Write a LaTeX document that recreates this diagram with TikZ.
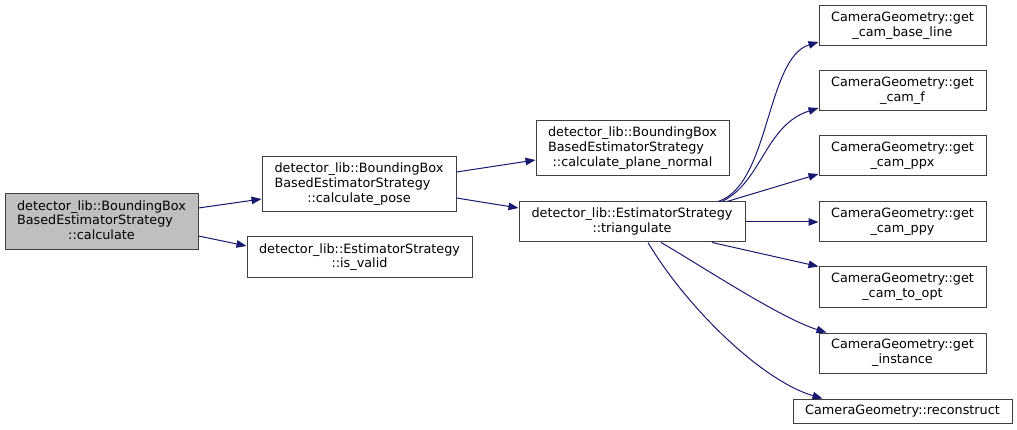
\documentclass[tikz,border=0pt]{standalone}
\usepackage{fontspec}
\setmainfont{DejaVu Sans}
\usetikzlibrary{arrows.meta}
\definecolor{edgec}{HTML}{191970}
\definecolor{bord}{HTML}{404040}
\definecolor{gfill}{HTML}{BFBFBF}
\newcommand{\threel}[3]{\begin{tabular}{@{}l@{}}#1\\#2\\\multicolumn{1}{@{}c@{}}{#3}\end{tabular}}
\newcommand{\twol}[2]{\begin{tabular}{@{}c@{}}#1\\#2\end{tabular}}
\begin{document}
\begin{tikzpicture}[x=1pt,y=-1pt,
 box/.style={draw=bord, line width=1pt, fill=white, rectangle, inner sep=0pt, font=\fontsize{12.8}{14.8}\selectfont},
 call/.style={draw=edgec, line width=1pt, -{Triangle[length=10pt,width=7.5pt]}}]
\useasboundingbox (0,0) rectangle (1017,430);
\node[box, fill=gfill, minimum width=193pt, minimum height=56pt] (calc) at (101.5,222) {\threel{detector\_lib::BoundingBox}{BasedEstimatorStrategy}{::calculate}};
\node[box, minimum width=194pt, minimum height=55pt] (pose) at (359,184.5) {\threel{detector\_lib::BoundingBox}{BasedEstimatorStrategy}{::calculate\_pose}};
\node[box, minimum width=225pt, minimum height=41pt] (valid) at (359.5,257.5) {\twol{detector\_lib::EstimatorStrategy}{::is\_valid}};
\node[box, minimum width=193pt, minimum height=55pt] (plane) at (632.5,148.5) {\threel{detector\_lib::BoundingBox}{BasedEstimatorStrategy}{::calculate\_plane\_normal}};
\node[box, minimum width=226pt, minimum height=40pt] (tri) at (632,222) {\twol{detector\_lib::EstimatorStrategy}{::triangulate}};
\node[box, minimum width=167pt, minimum height=40pt] (base) at (902.5,26) {\twol{CameraGeometry::get}{\_cam\_base\_line}};
\node[box, minimum width=167pt, minimum height=40pt] (camf) at (902.5,91) {\twol{CameraGeometry::get}{\_cam\_f}};
\node[box, minimum width=167pt, minimum height=40pt] (ppx) at (902.5,156) {\twol{CameraGeometry::get}{\_cam\_ppx}};
\node[box, minimum width=167pt, minimum height=40pt] (ppy) at (902.5,222) {\twol{CameraGeometry::get}{\_cam\_ppy}};
\node[box, minimum width=167pt, minimum height=40pt] (toopt) at (902.5,287) {\twol{CameraGeometry::get}{\_cam\_to\_opt}};
\node[box, minimum width=167pt, minimum height=40pt] (inst) at (902.5,353) {\twol{CameraGeometry::get}{\_instance}};
\node[box, minimum width=219pt, minimum height=24pt] (recon) at (902.5,411) {CameraGeometry::reconstruct};

\draw[call] ([yshift=14pt]calc.east) -- ([yshift=-14.5pt]pose.west);
\draw[call] ([yshift=-14pt]calc.east) -- ([yshift=11.5pt]valid.west);
\draw[call] ([yshift=12.5pt]pose.east) -- ([yshift=-11.5pt]plane.west);
\draw[call] ([yshift=-13.5pt]pose.east) -- ([yshift=14pt]tri.west);
\draw[call] ([xshift=86pt]tri.north) .. controls (770,185) and (766,58) .. ([yshift=-16pt]base.west);
\draw[call] ([xshift=90pt]tri.north) .. controls (762,182) and (765,125) .. ([yshift=-17pt]camf.west);
\draw[call] ([xshift=95pt]tri.north) -- ([yshift=-18pt]ppx.west);
\draw[call] (tri.east) -- (ppy.west);
\draw[call] ([xshift=80pt]tri.south) -- (toopt.north west);
\draw[call] ([xshift=29pt]tri.south) .. controls (700,265) and (780,318) .. ([xshift=8pt]inst.north west);
\draw[call] ([xshift=16pt]tri.south) .. controls (685,305) and (760,380) .. ([xshift=30pt]recon.north west);
\end{tikzpicture}
\end{document}
